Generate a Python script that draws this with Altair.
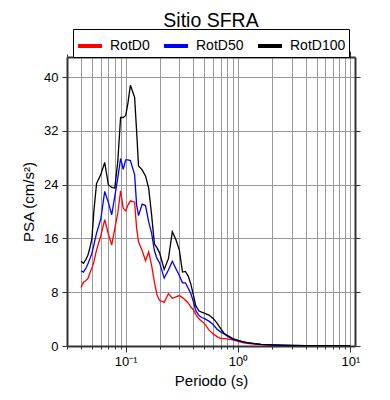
import altair as alt
import pandas as pd

periods = [0.040, 0.042, 0.044, 0.046, 0.048, 0.050, 0.052, 0.055, 0.060, 0.065,
           0.070, 0.075, 0.080, 0.085, 0.090, 0.095, 0.100, 0.105, 0.110, 0.120,
           0.125, 0.130, 0.140, 0.150, 0.160, 0.170, 0.180, 0.190, 0.200, 0.220,
           0.240, 0.260, 0.280, 0.300, 0.320, 0.340, 0.360, 0.380, 0.400, 0.420,
           0.450, 0.480, 0.500, 0.550, 0.600, 0.650, 0.700, 0.750, 0.800, 0.900,
           1.0, 1.1, 1.2, 1.4, 1.6, 1.8, 2.0, 2.5, 3.0, 4.0,
           5.0, 6.0, 7.0, 8.0, 10.0]

rotd100 = [12.6, 12.3, 12.8, 13.5, 14.6, 16.0, 20.0, 24.2, 25.5, 27.3,
           24.0, 23.6, 23.5, 27.5, 34.0, 34.0, 34.3, 36.3, 38.8, 37.0,
           32.0, 26.8, 26.2, 25.3, 23.5, 19.5, 15.2, 14.6, 13.9, 11.4,
           13.0, 17.0, 15.8, 14.3, 11.0, 11.1, 10.4, 9.2, 7.6, 6.0,
           5.2, 5.0, 4.9, 4.6, 4.1, 3.4, 2.6, 1.9, 1.6, 1.1,
           0.85, 0.65, 0.5, 0.35, 0.25, 0.2, 0.17, 0.12, 0.09, 0.06,
           0.05, 0.04, 0.03, 0.03, 0.02]

rotd50 = [11.2, 11.0, 11.5, 12.2, 13.0, 13.8, 15.0, 16.8, 18.9, 23.0,
          21.4, 19.5, 22.3, 25.0, 27.9, 26.3, 27.7, 27.7, 27.6, 25.5,
          21.0, 19.4, 21.1, 20.9, 18.5, 16.8, 14.2, 13.0, 12.4, 10.1,
          11.3, 12.6, 11.5, 10.5, 9.4, 9.4, 8.6, 7.8, 6.6, 5.3,
          4.5, 4.2, 4.1, 3.7, 3.2, 2.5, 2.1, 1.8, 1.5, 1.0,
          0.8, 0.6, 0.5, 0.35, 0.25, 0.2, 0.15, 0.1, 0.08, 0.06,
          0.05, 0.04, 0.03, 0.03, 0.02]

rotd0 = [8.7, 9.5, 9.7, 10.0, 10.9, 11.6, 12.5, 14.3, 16.4, 18.8,
         16.7, 15.0, 17.5, 19.8, 23.1, 20.5, 20.1, 21.0, 21.6, 21.4,
         17.5, 15.5, 14.2, 12.7, 14.0, 12.0, 9.5, 7.6, 6.8, 6.5,
         7.8, 7.1, 7.3, 7.5, 7.2, 6.8, 6.4, 5.8, 5.4, 4.7,
         4.0, 3.6, 3.4, 2.4, 1.8, 1.4, 1.1, 1.1, 1.05, 0.9,
         0.7, 0.5, 0.4, 0.3, 0.2, 0.15, 0.12, 0.08, 0.05, 0.04,
         0.03, 0.03, 0.02, 0.02, 0.02]

series = ["RotD0", "RotD50", "RotD100"]
colors = ["#ff0000", "#0000ff", "#000000"]

x_tick_values = [0.03, 0.04, 0.05, 0.06, 0.07, 0.08, 0.09,
                 0.1, 0.2, 0.3, 0.4, 0.5, 0.6, 0.7, 0.8, 0.9,
                 1, 2, 3, 4, 5, 6, 7, 8, 9, 10]
y_tick_values = [0, 8, 16, 24, 32, 40]

rows = []
for name, vals in zip(series, [rotd0, rotd50, rotd100]):
    for t, v in zip(periods, vals):
        rows.append({"T": t, "PSA": v, "serie": name})
df = pd.DataFrame(rows)

FONT = "Liberation Sans"
major_test = "datum.value == 0.1 || datum.value == 1 || datum.value == 10"
label_expr = ("datum.value == 0.1 ? '10⁻¹' : datum.value == 1 ? '10⁰' : "
              "datum.value == 10 ? '10¹' : ''")
tick_cond = {"condition": {"test": major_test, "value": 6}, "value": 3}

xscale = alt.Scale(type="log", domain=[0.03, 11], nice=False)
yscale = alt.Scale(domain=[0, 43], nice=False, zero=True)

base = alt.Chart(df)

lines = base.mark_line(strokeWidth=1.3, clip=True).encode(
    x=alt.X("T:Q", scale=xscale,
            axis=alt.Axis(orient="bottom", values=x_tick_values, labelExpr=label_expr,
                          tickSize=tick_cond, grid=True, title="Periodo (s)",
                          labelFlush=False, labelOverlap=False, labelPadding=3,
                          titlePadding=5)),
    y=alt.Y("PSA:Q", scale=yscale,
            axis=alt.Axis(orient="left", values=y_tick_values, grid=True,
                          title="PSA (cm/s²)", tickSize=5, labelPadding=4,
                          titlePadding=7)),
    color=alt.Color("serie:N", scale=alt.Scale(domain=series, range=colors),
                    legend=alt.Legend(title=None, orient="none", legendX=6, legendY=-28,
                                      direction="horizontal", symbolType="stroke",
                                      symbolStrokeWidth=4, symbolSize=576,
                                      labelFont=FONT, labelFontSize=14,
                                      labelColor="black", labelOffset=6,
                                      columnPadding=6, padding=3,
                                      strokeColor="black", fillColor="white")),
)

frame = base.mark_line(opacity=0).encode(
    x=alt.X("T:Q", scale=xscale,
            axis=alt.Axis(orient="top", values=x_tick_values, labels=False,
                          title="", grid=False, tickSize=tick_cond)),
    y=alt.Y("PSA:Q", scale=yscale,
            axis=alt.Axis(orient="right", values=y_tick_values, labels=False,
                          title="", grid=False, tickSize=5)),
    detail="serie:N",
)

chart = alt.layer(lines, frame).resolve_axis(
    x="independent", y="independent"
).properties(
    width=288, height=289,
    padding={"left": 59, "top": 49, "right": 27, "bottom": 45},
    autosize=alt.AutoSizeParams(type="none"),
    title=alt.TitleParams("Sitio SFRA", font=FONT, fontSize=19.5, fontWeight="normal",
                          anchor="middle", color="black", offset=-3),
).configure_axis(
    labelFont=FONT, labelFontSize=13, labelColor="black",
    titleFont=FONT, titleFontSize=15, titleFontWeight="normal", titleColor="black",
    domainColor="#333333", domainWidth=2, tickColor="#333333", tickWidth=1,
    gridColor="#999999", gridWidth=1,
).configure_view(stroke=None)

chart.save("out.html", embed_options={"renderer": "svg", "actions": False})
